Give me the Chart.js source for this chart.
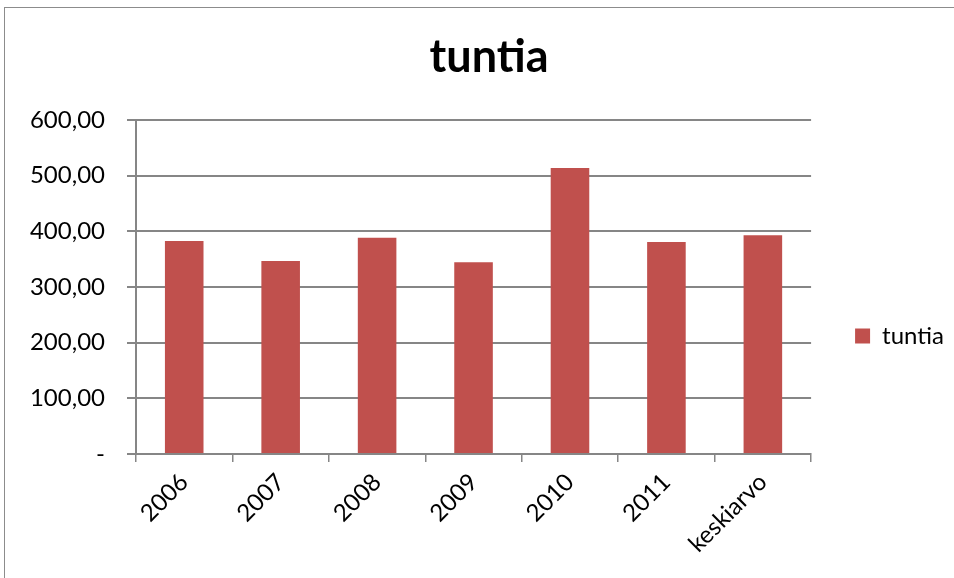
<!DOCTYPE html>
<html>
<head>
<meta charset="utf-8">
<script src="https://cdn.jsdelivr.net/npm/chart.js@4/dist/chart.umd.min.js"></script>
<style>
  html, body { margin: 0; padding: 0; background: #fff; }
  #wrap { position: relative; width: 954px; height: 578px; overflow: hidden; }
  #frame { position: absolute; left: 4px; top: 7px; width: 960px; height: 590px;
           border: 1px solid #8c8c8c; box-sizing: border-box; pointer-events: none; }
  canvas { position: absolute; left: 0; top: 0; }
</style>
</head>
<body>
<div id="wrap">
  <canvas id="chart-tuntia" width="954" height="578"></canvas>
  <div id="frame"></div>
</div>
<script>
// hours per year and the average of them
const years = ['2006', '2007', '2008', '2009', '2010', '2011', 'keskiarvo'];
const tuntia = [382.6, 346.7, 388.6, 344.3, 513.8, 380.8, 392.8];
const yTicks = [0, 100, 200, 300, 400, 500, 600];

const FONT = 'Lato, "Noto Sans", sans-serif';
const GRID = '#868686';

function fmt(v) {
    if (v === 0) return '-';
    return v.toFixed(2).replace('.', ',');
}

const ctx = document.getElementById('chart-tuntia');
const myChart = new Chart(ctx, {
    type: 'bar',
    data: {
        labels: years,
        datasets: [{
            label: 'tuntia',
            data: tuntia,
            backgroundColor: '#C0504D',
            borderWidth: 0,
            barPercentage: 0.4,
            categoryPercentage: 1.0
        }]
    },
    options: {
        responsive: false,
        animation: false,
        layout: { padding: { left: 24, right: 0, top: 0, bottom: 0 } },
        plugins: {
            title: {
                display: true,
                text: 'tuntia',
                color: '#000',
                font: { family: FONT, size: 45, weight: 'bold' },
                padding: { top: 30, bottom: 36 }
            },
            legend: {
                position: 'right',
                // blank title just pushes the single entry down a little
                title: { display: true, text: ' ', font: { size: 10 }, padding: { top: 82, bottom: 0 } },
                labels: {
                    color: '#000',
                    font: { family: FONT, size: 24 },
                    boxWidth: 15,
                    boxHeight: 15,
                    padding: 44
                }
            },
            tooltip: { enabled: false }
        },
        scales: {
            x: {
                grid: { display: true, offset: true, drawOnChartArea: false, color: GRID, tickLength: 8, lineWidth: 1.5 },
                border: { color: GRID, width: 2 },
                ticks: { color: '#000', font: { family: FONT, size: 24 }, minRotation: 45, maxRotation: 45, padding: 6 },
                afterFit: function (axis) { axis.height = 124; }
            },
            y: {
                min: 0,
                max: 600,
                afterBuildTicks: function (axis) { axis.ticks = yTicks.map(v => ({ value: v })); },
                grid: { color: GRID, lineWidth: 2, tickLength: 9 },
                border: { color: GRID, width: 2 },
                ticks: { color: '#000', font: { family: FONT, size: 24 }, padding: 22, callback: fmt },
                afterFit: function (axis) { axis.width = 112; }
            }
        }
    }
});
</script>
</body>
</html>
